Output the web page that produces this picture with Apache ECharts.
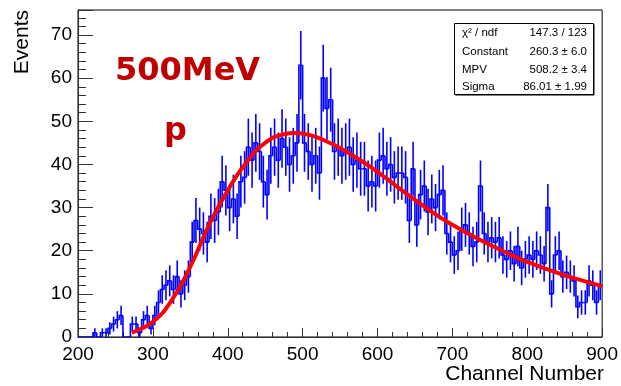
<!DOCTYPE html>
<html><head><meta charset="utf-8">
<script src="https://cdn.jsdelivr.net/npm/echarts@6/dist/echarts.min.js"></script>
<style>html,body{margin:0;padding:0;background:#fff}#c{width:621px;height:386px}</style>
</head><body><div id="c"></div>
<script>
// Histogram: 140 bins of width 5 from 200 to 900
const binStart = 200;
const binWidth = 5;
const counts = [
  0,0,0,0,1,0,1,1,2,3,
  4,5,0,0,3,3,1,4,5,2,
  5,8,11,12,13,11,14,10,12,14,
  22,27,25,24,22,28,27,29,36,34,
  30,32,28,36,37,44,41,45,43,36,
  33,42,44,41,46,44,40,42,45,63,
  45,43,40,42,38,60,53,55,43,44,
  42,43,44,40,41,39,39,35,36,35,
  41,42,39,40,37,38,38,37,27,39,
  26,33,35,29,32,30,33,34,24,22,
  19,20,25,26,24,21,22,35,24,22,
  23,22,23,19,18,20,17,21,16,18,
  19,18,20,19,17,30,10,19,20,14,
  15,14,13,7,8,8,13,12,8,12
];
// Fit curve
const fitX = [272,275,300,325,350,375,400,425,450,475,490,510,530,550,575,600,625,650,675,700,725,750,775,800,825,850,875,900];
const fitY = [1.0,1.2,3.5,8.5,16.3,26,34,40.5,45,47,47.3,46.8,45.5,43.8,41.2,38.3,35.0,31.8,28.7,26.0,23.6,21.4,19.3,17.4,15.8,14.3,13.0,11.8];
const xTicks = [200,300,400,500,600,700,800,900];
const yTicks = [0,10,20,30,40,50,60,70];
const statsNames = ['χ² / ndf','Constant','MPV','Sigma'];
const statsValues = ['147.3 / 123','260.3 ± 6.0','508.2 ± 3.4','86.01 ± 1.99'];

const FONT = 'Liberation Sans, Arial, Helvetica, sans-serif';
const histData = counts.map((c,i)=>[binStart+i*binWidth, c, i>0?counts[i-1]:0]);
const fitData = fitX.map((x,i)=>[x, fitY[i]]);

function renderHist(params, api){
  const x0 = api.value(0), v = api.value(1), prev = api.value(2);
  const pPrev = api.coord([x0, prev]);
  const pL = api.coord([x0, v]);
  const pR = api.coord([x0+binWidth, v]);
  const children = [{
    type:'polyline', shape:{points:[pPrev,pL,pR]},
    style:{stroke:'#0000ff', lineWidth:1.6, fill:null}
  }];
  if (v > 0) {
    const e = Math.sqrt(v);
    const t = api.coord([x0+binWidth/2, v+e]);
    const b = api.coord([x0+binWidth/2, v-e]);
    children.push({type:'line', shape:{x1:t[0],y1:t[1],x2:b[0],y2:b[1]}, style:{stroke:'#0000ff', lineWidth:1.6}});
  }
  return {type:'group', children};
}

const chart = echarts.init(document.getElementById('c'), null, {renderer:'canvas'});
const statsChildren = [
  {type:'rect', shape:{x:455.5,y:24.5,width:139,height:71}, style:{fill:'#000'}, z:100},
  {type:'rect', shape:{x:454.5,y:23.5,width:139,height:71}, style:{fill:'#fff', stroke:'#000', lineWidth:1}, z:101}
];
const rowY = [33, 51.5, 69.5, 87];
statsNames.forEach((n,i)=>{
  statsChildren.push({type:'text', x:462, y:rowY[i], z:102, style:{text:n, font:'11.5px '+FONT, fill:'#000', textAlign:'left', textVerticalAlign:'middle'}});
  statsChildren.push({type:'text', x:587, y:rowY[i], z:102, style:{text:statsValues[i], font:'11.5px '+FONT, fill:'#000', textAlign:'right', textVerticalAlign:'middle'}});
});

chart.setOption({
  animation:false,
  backgroundColor:'#fff',
  grid:{left:78, right:17, top:10, bottom:49, show:true, borderColor:'#000', borderWidth:1, backgroundColor:'transparent'},
  xAxis:{
    type:'value', min:xTicks[0], max:xTicks[xTicks.length-1], interval:100,
    axisLine:{show:true, lineStyle:{color:'#333', width:1}},
    axisTick:{show:true, inside:true, length:9, lineStyle:{color:'#333'}},
    minorTick:{show:true, splitNumber:5, length:5, lineStyle:{color:'#333'}},
    splitLine:{show:false},
    axisLabel:{margin:8, fontSize:19, color:'#000', fontFamily:FONT, showMinLabel:true, showMaxLabel:true}
  },
  yAxis:{
    type:'value', min:0, max:75.8, interval:10,
    axisLine:{show:true, lineStyle:{color:'#333', width:1}},
    axisTick:{show:true, inside:true, length:15, lineStyle:{color:'#333'}},
    minorTick:{show:true, splitNumber:5, length:8, lineStyle:{color:'#333'}},
    splitLine:{show:false},
    axisLabel:{margin:6, fontSize:19, color:'#000', fontFamily:FONT, showMaxLabel:false,
      formatter:(v)=> yTicks.includes(v) ? String(v) : ''}
  },
  series:[
    {type:'custom', renderItem:renderHist, data:histData, encode:{x:0,y:1}, clip:true, z:2},
    {type:'line', data:fitData, smooth:true, showSymbol:false, symbol:'none', lineStyle:{color:'#ff0000', width:4}, z:3}
  ],
  graphic:[
    {type:'text', x:22, y:10, rotation:Math.PI/2, style:{text:'Events', font:'21px '+FONT, fill:'#000', textAlign:'right', textVerticalAlign:'middle'}},
    {type:'text', x:604, y:374, style:{text:'Channel Number', font:'21px '+FONT, fill:'#000', textAlign:'right', textVerticalAlign:'middle'}},
    {type:'text', x:115, y:72, style:{text:'500MeV', font:'bold 32px DejaVu Sans, sans-serif', fill:'#c00000', textAlign:'left', textVerticalAlign:'middle'}},
    {type:'text', x:164, y:132, style:{text:'p', font:'bold 32px DejaVu Sans, sans-serif', fill:'#c00000', textAlign:'left', textVerticalAlign:'middle'}},
    {type:'group', children:statsChildren}
  ]
});
</script></body></html>
